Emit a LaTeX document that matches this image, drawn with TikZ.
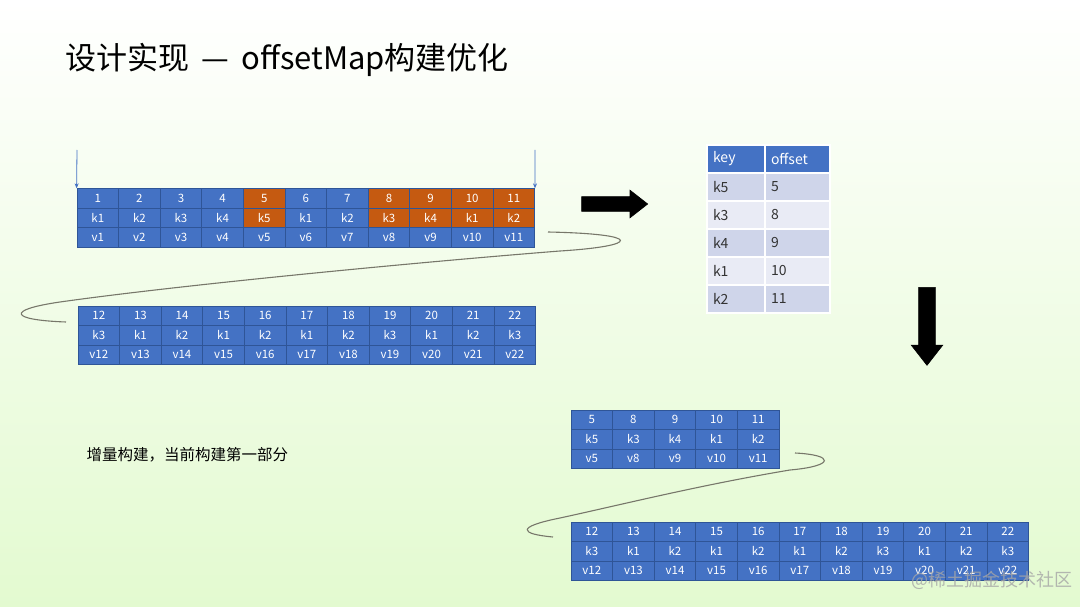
\documentclass[tikz,border=0pt]{standalone}
\usepackage{fontspec}
\setmainfont{Noto Sans CJK SC}
\usepackage{xcolor}
\usepackage{tikz}
\usetikzlibrary{arrows.meta, shapes.arrows}

\definecolor{cellblue}{HTML}{4472C4}
\definecolor{cellline}{HTML}{2F5597}
\definecolor{cellorange}{HTML}{C55A11}
\definecolor{rowdark}{HTML}{CFD5EA}
\definecolor{rowlight}{HTML}{E9EBF5}
\definecolor{bggreen}{HTML}{E3FAD0}
\definecolor{curvegray}{HTML}{77776A}

\begin{document}
\begin{tikzpicture}[
    x=1pt, y=-1pt,
    cell/.style={
        draw=cellline, fill=cellblue, line width=0.8pt,
        minimum width=41.6pt, minimum height=19.5pt,
        inner sep=0pt, text=white, font=\fontsize{11.5}{13}\selectfont
    },
    tabkey/.style={
        draw=white, line width=1.5pt, minimum height=28pt,
        text width=46pt, inner xsep=6pt, inner ysep=0pt, align=left,
        text=black!80, font=\fontsize{14}{16}\selectfont
    },
    tabval/.style={tabkey, text width=53pt},
    bigarrow/.style={
        single arrow, fill=black, draw=black, line width=0.6pt,
        single arrow head indent=0pt, single arrow tip angle=76
    },
    ptr/.style={-{Stealth[length=5pt,width=4pt]}, draw=cellblue, line width=0.8pt},
    curve/.style={draw=curvegray, line width=1.1pt}
]
\useasboundingbox (0,0) rectangle (1080,607);
\fill[top color=white, middle color=bggreen!50!white, bottom color=bggreen] (0,0) rectangle (1080,607);

% Title and note
\node[anchor=west, font=\fontsize{31}{35}\selectfont] (title) at (62,60) {设计实现\, — \,offsetMap构建优化};
\node[anchor=west, font=\fontsize{15.5}{18}\selectfont] (note) at (83,455) {增量构建，当前构建第一部分};

% Top array: entries 1..11, the latest key of each run in orange
\foreach \n/\k/\c [count=\i] in {1/k1/cellblue, 2/k2/cellblue, 3/k3/cellblue, 4/k4/cellblue,
    5/k5/cellorange, 6/k1/cellblue, 7/k2/cellblue, 8/k3/cellorange,
    9/k4/cellorange, 10/k1/cellorange, 11/k2/cellorange} {
    \node[cell, fill=\c] (t\i-1) at ({77+41.6*(\i-0.5)}, 198.5) {\n};
    \node[cell, fill=\c] (t\i-2) at ({77+41.6*(\i-0.5)}, 218) {\k};
    \node[cell] (t\i-3) at ({77+41.6*(\i-0.5)}, 237.5) {v\i};
}

% Second part of the input: entries 12..22
\foreach \k [count=\i] in {k3,k1,k2,k1,k2,k1,k2,k3,k1,k2,k3} {
    \pgfmathtruncatemacro{\n}{\i+11}
    \node[cell] (b\i-1) at ({78+41.6*(\i-0.5)}, 315.75) {\n};
    \node[cell] (b\i-2) at ({78+41.6*(\i-0.5)}, 335.25) {\k};
    \node[cell] (b\i-3) at ({78+41.6*(\i-0.5)}, 354.75) {v\n};
}

% Range markers
\coordinate (pl) at (77,150);
\coordinate (pr) at (535,150);
\draw[ptr] (pl) -- (t1-1.north west);
\draw[ptr] (pr) -- (t11-1.north east);

% Wrap-around curve between the two parts
\coordinate (w1) at (548,232);
\coordinate (w2) at (66,322);
\draw[curve] (w1) .. controls (645,234) and (640,246) .. (560,251)
    .. controls (420,262) and (180,285) .. (60,302)
    .. controls (5,310) and (10,320) .. (w2);

% Block arrows
\node[bigarrow, minimum height=66pt, inner sep=7pt, single arrow head extend=6.5pt] (ra) at (610,204) {};
\node[bigarrow, minimum height=78pt, inner sep=8pt, single arrow head extend=7.5pt, rotate=-90] (da) at (927,321) {};

% offsetMap table
\node[tabkey, fill=cellblue, text=white] (khead) at (736,159) {key};
\node[tabval, fill=cellblue, text=white] (ohead) at (797.5,159) {offset};
\foreach \k/\o/\c [count=\i] in {k5/5/rowdark, k3/8/rowlight, k4/9/rowdark, k1/10/rowlight, k2/11/rowdark} {
    \node[tabkey, fill=\c] (k\i) at (736, {173+28*(\i-0.5)}) {\k};
    \node[tabval, fill=\c] (o\i) at (797.5, {173+28*(\i-0.5)}) {\o};
}

% Rebuilt part one
\foreach \n/\k [count=\i] in {5/k5, 8/k3, 9/k4, 10/k1, 11/k2} {
    \node[cell] (m\i-1) at ({571+41.6*(\i-0.5)}, 419.75) {\n};
    \node[cell] (m\i-2) at ({571+41.6*(\i-0.5)}, 439.25) {\k};
    \node[cell] (m\i-3) at ({571+41.6*(\i-0.5)}, 458.75) {v\n};
}
\foreach \k [count=\i] in {k3,k1,k2,k1,k2,k1,k2,k3,k1,k2,k3} {
    \pgfmathtruncatemacro{\n}{\i+11}
    \node[cell] (r\i-1) at ({571+41.6*(\i-0.5)}, 531.75) {\n};
    \node[cell] (r\i-2) at ({571+41.6*(\i-0.5)}, 551.25) {\k};
    \node[cell] (r\i-3) at ({571+41.6*(\i-0.5)}, 570.75) {v\n};
}

\coordinate (w3) at (795,453);
\coordinate (w4) at (553,537);
\draw[curve] (w3) .. controls (835,455) and (835,466) .. (790,470)
    .. controls (700,485) and (620,505) .. (560,518)
    .. controls (515,527) and (520,534) .. (w4);

% Watermark
\node[anchor=east, text=gray!70, opacity=0.8, font=\fontsize{18}{20}\selectfont] (wm) at (1076,580) {@稀土掘金技术社区};

\end{tikzpicture}
\end{document}
